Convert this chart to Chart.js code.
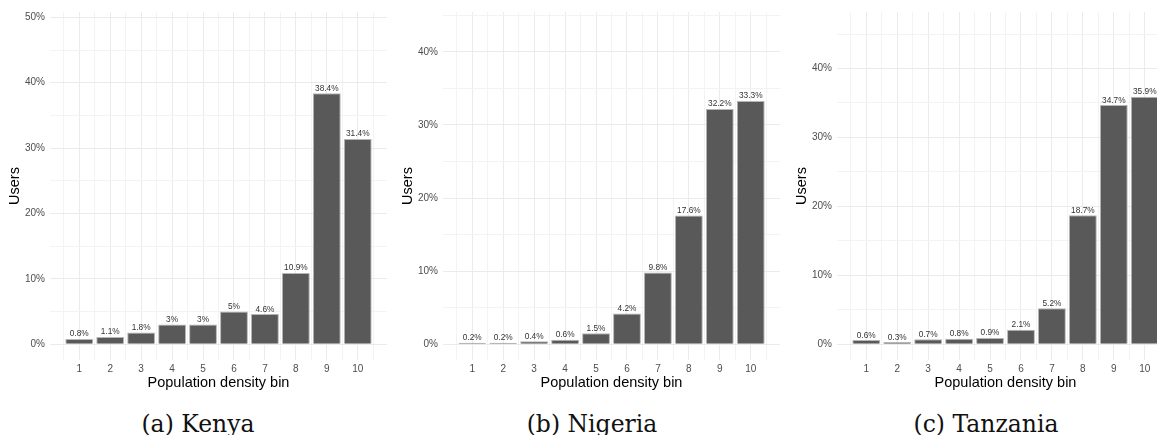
<!DOCTYPE html>
<html>
<head>
<meta charset="utf-8">
<script src="https://cdn.jsdelivr.net/npm/chart.js@4.4.1/dist/chart.umd.min.js"></script>
<style>
  html, body { margin: 0; padding: 0; background: #fff; overflow: hidden; width: 1157px; height: 435px; }
  #wrap { position: relative; width: 1157px; height: 435px; overflow: hidden; }
  #wrap canvas { position: absolute; top: 0; }
  .cap { position: absolute; top: 409px; width: 394px; text-align: center;
         font-family: "DejaVu Serif", serif; font-size: 23.5px; line-height: 30px; color: #111; }
</style>
</head>
<body>
<div id="wrap">
  <canvas id="kenya" width="400" height="400" style="left:0px"></canvas>
  <canvas id="nigeria" width="400" height="400" style="left:393px"></canvas>
  <canvas id="tanzania" width="400" height="400" style="left:787px"></canvas>
  <div class="cap" id="cap0" style="left:1px"></div>
  <div class="cap" id="cap1" style="left:395px"></div>
  <div class="cap" id="cap2" style="left:789px"></div>
</div>
<script>
// Population density bins (x categories)
const bins = [1, 2, 3, 4, 5, 6, 7, 8, 9, 10];

// Share of users per bin, in percent
const kenyaUsers    = [0.8, 1.1, 1.8, 3, 3, 5, 4.6, 10.9, 38.4, 31.4];
const nigeriaUsers  = [0.2, 0.2, 0.4, 0.6, 1.5, 4.2, 9.8, 17.6, 32.2, 33.3];
const tanzaniaUsers = [0.6, 0.3, 0.7, 0.8, 0.9, 2.1, 5.2, 18.7, 34.7, 35.9];

// Panel captions
const captions = ['(a) Kenya', '(b) Nigeria', '(c) Tanzania'];

// Axis titles
const xTitle = 'Population density bin';
const yTitle = 'Users';

const SANS = '"Liberation Sans", Arial, Helvetica, sans-serif';

// Gridline positions on x: majors on each bin, minors halfway between
const xGrid = [];
for (let v = 0.5; v <= 10.5; v += 0.5) xGrid.push(v);

// Writes the percentage just above each bar
const barLabels = {
  id: 'barLabels',
  afterDatasetsDraw(chart) {
    const ctx = chart.ctx;
    const meta = chart.getDatasetMeta(0);
    const values = chart.data.datasets[0].data;
    ctx.save();
    ctx.font = '8.3px ' + SANS;
    ctx.fillStyle = '#333333';
    ctx.textAlign = 'center';
    ctx.textBaseline = 'alphabetic';
    meta.data.forEach((bar, i) => {
      ctx.fillText(values[i] + '%', bar.x, bar.y - 2.5);
    });
    ctx.restore();
  }
};

function makePanel(id, values) {
  const upper = Math.max(...values) + 10;   // headroom for the labels
  const yMin = -0.05 * upper;
  const yMax = 1.05 * upper;
  const yGrid = [];
  for (let v = 0; v <= yMax; v += 5) yGrid.push(v);

  return new Chart(document.getElementById(id), {
    type: 'bar',
    data: {
      labels: bins,
      datasets: [{
        data: values,
        backgroundColor: '#595959',
        borderColor: '#b5b5b5',
        borderWidth: 1,
        // the bar ruler sees the half-step gridline ticks, so 1.8 of a half step = 0.9 of a bin
        categoryPercentage: 1,
        barPercentage: 1.8
      }]
    },
    options: {
      responsive: false,
      animation: false,
      devicePixelRatio: 1,
      layout: { padding: { top: 12, right: 13, left: 0, bottom: 0 } },
      plugins: { legend: { display: false }, tooltip: { enabled: false } },
      scales: {
        x: {
          type: 'linear',
          min: 0.055,
          max: 10.945,
          offset: false,
          afterBuildTicks: s => { s.ticks = xGrid.map(v => ({ value: v })); },
          afterFit: s => { s.height = 40; },
          ticks: {
            autoSkip: false, maxRotation: 0, padding: 3,
            color: '#4d4d4d', font: { family: SANS, size: 10 },
            callback: v => (Number.isInteger(v) ? String(v) : '')
          },
          grid: {
            offset: false,
            drawTicks: false,
            color: c => (c.tick && Number.isInteger(c.tick.value) ? '#ebebeb' : '#f3f3f3')
          },
          border: { display: false },
          title: {
            display: true, text: xTitle, color: '#000',
            font: { family: SANS, size: 14.5 }, padding: { top: 0, bottom: 8 }
          }
        },
        y: {
          min: yMin,
          max: yMax,
          afterBuildTicks: s => { s.ticks = yGrid.map(v => ({ value: v })); },
          afterFit: s => { s.width = 50; },
          ticks: {
            padding: 5, color: '#4d4d4d', font: { family: SANS, size: 10 },
            callback: v => (v % 10 === 0 ? v + '%' : '')
          },
          grid: {
            drawTicks: false,
            color: c => (c.tick && c.tick.value % 10 === 0 ? '#ebebeb' : '#f3f3f3')
          },
          border: { display: false },
          title: {
            display: true, text: yTitle, color: '#000',
            font: { family: SANS, size: 14.5 }, padding: { top: 6, bottom: 0 }
          }
        }
      }
    },
    plugins: [barLabels]
  });
}

makePanel('kenya', kenyaUsers);
makePanel('nigeria', nigeriaUsers);
makePanel('tanzania', tanzaniaUsers);

captions.forEach((t, i) => { document.getElementById('cap' + i).textContent = t; });
</script>
</body>
</html>
